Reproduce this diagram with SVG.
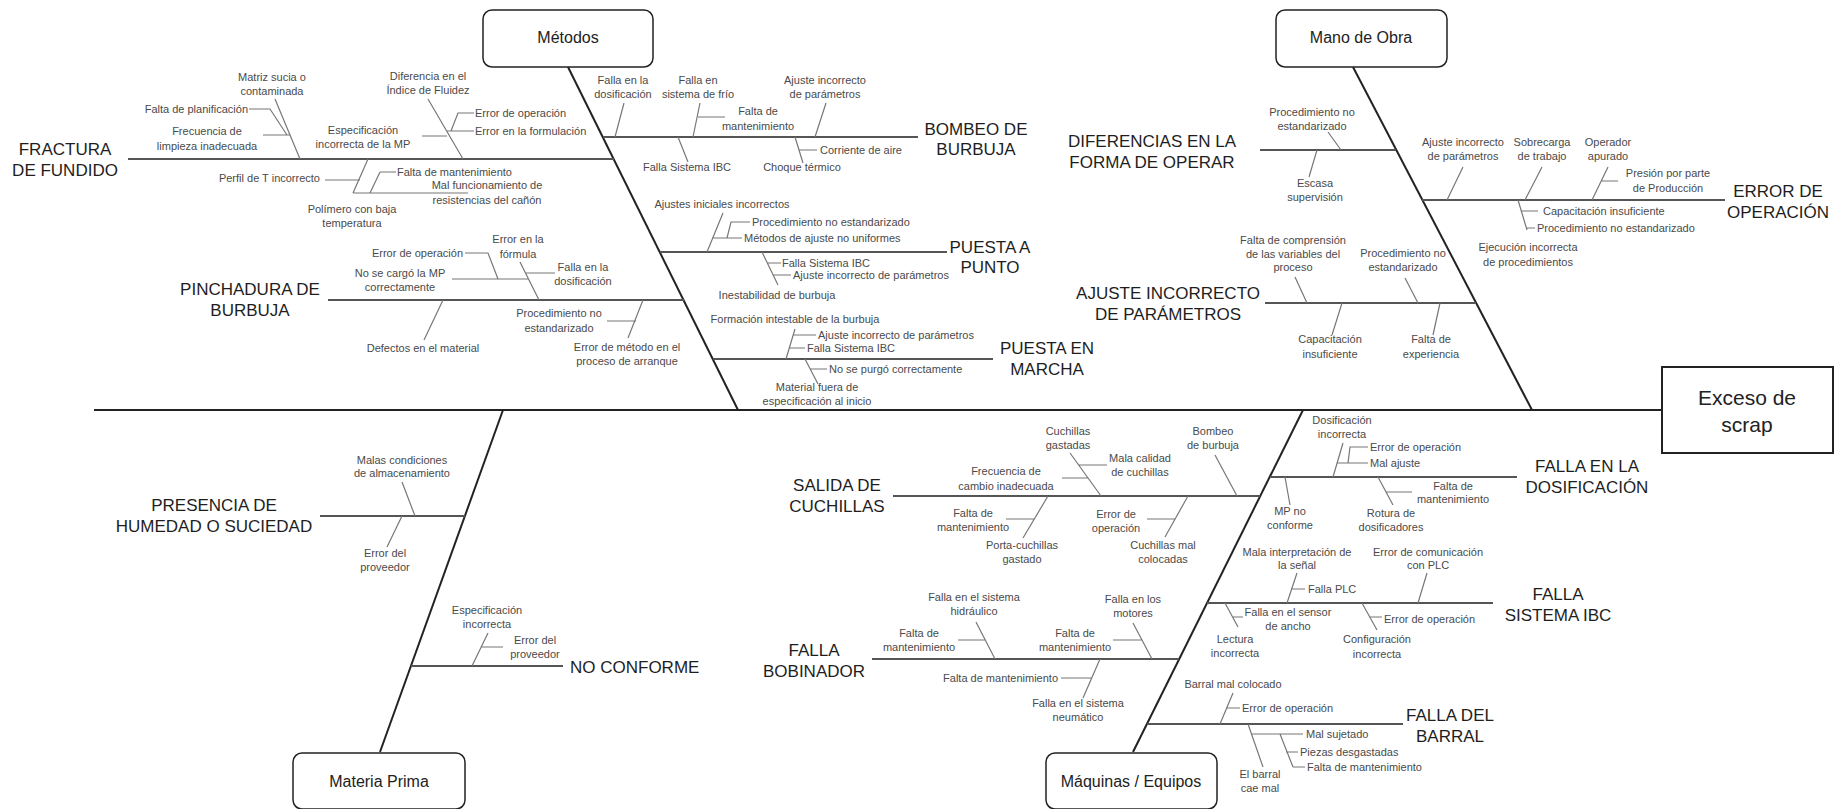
<svg xmlns="http://www.w3.org/2000/svg" width="1844" height="809" viewBox="0 0 1844 809">
<style>
text{font-family:"Liberation Sans",Arial,sans-serif}
.box{fill:#fff;stroke:#222;stroke-width:1.5}
.bt{font-size:16px;fill:#222;text-anchor:middle}
.ht{font-size:21px;fill:#222;text-anchor:middle}
.cat{font-size:17px;fill:#1e1e1e;text-anchor:middle}
.t{font-size:11px;fill:#4a4a4a;text-anchor:middle}
.s{text-anchor:start}
.e{text-anchor:end}
.spine{stroke:#222;stroke-width:2;fill:none}
.bone{stroke:#555;stroke-width:2;fill:none}
.sub{stroke:#777;stroke-width:1.2;fill:none}
</style>
<rect width="1844" height="809" fill="#fff"/>

<g id="connectors">
  <line class="spine" x1="94" y1="410" x2="1662" y2="410"/>
  <line class="spine" x1="568" y1="67" x2="738" y2="410"/>
  <line class="spine" x1="1353" y1="67" x2="1532" y2="410"/>
  <line class="spine" x1="380" y1="752" x2="503" y2="410"/>
  <line class="spine" x1="1133" y1="752" x2="1303" y2="410"/>
  <!-- category bones -->
  <line class="bone" x1="128" y1="159" x2="614" y2="159"/>
  <line class="bone" x1="328" y1="300" x2="684" y2="300"/>
  <line class="bone" x1="603" y1="137" x2="918" y2="137"/>
  <line class="bone" x1="660" y1="252" x2="947" y2="252"/>
  <line class="bone" x1="713" y1="359" x2="993" y2="359"/>
  <line class="bone" x1="1260" y1="150" x2="1396" y2="150"/>
  <line class="bone" x1="1422" y1="200" x2="1725" y2="200"/>
  <line class="bone" x1="1265" y1="303" x2="1476" y2="303"/>
  <line class="bone" x1="320" y1="516" x2="465" y2="516"/>
  <line class="bone" x1="411" y1="666" x2="563" y2="666"/>
  <line class="bone" x1="893" y1="496" x2="1260" y2="496"/>
  <line class="bone" x1="872" y1="659" x2="1179" y2="659"/>
  <line class="bone" x1="1270" y1="477" x2="1517" y2="477"/>
  <line class="bone" x1="1207" y1="603" x2="1493" y2="603"/>
  <line class="bone" x1="1147" y1="724" x2="1403" y2="724"/>
  <!-- FRACTURA -->
  <path class="sub" d="M275 99L300 159M249 109H270L287 135M263 135H290M422 136H447M428 99L463 159M447 131H474M451 131L458 113H474M325 180H360M368 159L353 193M380 172H396M380 172L370 193M353 193H468"/>
  <!-- PINCHADURA -->
  <path class="sub" d="M465 253H488L498 279M452 279H529M520 262L539 300M525 273H555M443 300L424 340M607 321H636M643 300L628 338"/>
  <!-- BOMBEO -->
  <path class="sub" d="M624 103L615 137M700 103L693 137M698 117H725M826 103L815 137M678 137L688 162M795 137L803 163M799 150H817"/>
  <!-- PUESTA A PUNTO -->
  <path class="sub" d="M723 213L707 252M712 238H742M727 238L731 222H750M762 252L778 285M767 263H781M773 275H791"/>
  <!-- PUESTA EN MARCHA -->
  <path class="sub" d="M795 329L786 359M793 335H816M789 348H805M805 359L818 384M810 369H827"/>
  <!-- DIFERENCIAS -->
  <path class="sub" d="M1328 132L1341 150M1317 150L1309 177"/>
  <!-- ERROR DE OPERACION -->
  <path class="sub" d="M1463 167L1447 200M1542 167L1525 200M1608 167L1592 200M1601 181H1618M1518 200L1527 230M1521 211H1538M1526 228H1535"/>
  <!-- AJUSTE -->
  <path class="sub" d="M1295 277L1307 303M1405 278L1418 303M1342 303L1332 335M1440 303L1433 335"/>
  <!-- PRESENCIA -->
  <path class="sub" d="M402 482L415 516M402 516L387 547"/>
  <!-- NO CONFORME -->
  <path class="sub" d="M488 633L472 666M481 647H503"/>
  <!-- SALIDA -->
  <path class="sub" d="M1070 453L1101 496M1079 465H1107M1062 478H1088M1215 455L1237 496M1006 519H1034M1048 496L1023 538M1147 519H1175M1188 496L1165 537"/>
  <!-- BOBINADOR -->
  <path class="sub" d="M976 622L995 659M958 640H985M1133 623L1152 659M1113 640H1142M1100 659L1083 698M1061 678H1092"/>
  <!-- DOSIFICACION -->
  <path class="sub" d="M1343 443L1333 477M1337 463H1368M1348 463L1350 447H1368M1285 477L1290 505M1378 477L1393 505M1386 492H1412"/>
  <!-- IBC -->
  <path class="sub" d="M1297 573L1287 603M1292 589H1305M1427 573L1418 603M1225 603L1238 627M1233 617H1243M1362 603L1377 630M1370 617H1382"/>
  <!-- BARRAL -->
  <path class="sub" d="M1233 693L1220 724M1227 708H1240M1248 724L1263 767M1251 734H1303M1280 734L1293 767M1286 752H1298M1293 767H1305"/>
</g>

<g id="head">
  <rect x="1662" y="367" width="171" height="86" fill="#fff" stroke="#222" stroke-width="2"/>
  <text class="ht" x="1747" y="405">Exceso de</text>
  <text class="ht" x="1747" y="432">scrap</text>
</g>
<g id="metodos">
  <rect class="box" x="483" y="10" width="170" height="57" rx="9"/>
  <text class="bt" x="568" y="43">Métodos</text>
</g>
<g id="mano-de-obra">
  <rect class="box" x="1276" y="10" width="171" height="57" rx="9"/>
  <text class="bt" x="1361" y="43">Mano de Obra</text>
</g>
<g id="materia-prima">
  <rect class="box" x="293" y="753" width="172" height="56" rx="9"/>
  <text class="bt" x="379" y="787">Materia Prima</text>
</g>
<g id="maquinas">
  <rect class="box" x="1046" y="753" width="171" height="56" rx="9"/>
  <text class="bt" x="1131" y="787">Máquinas / Equipos</text>
</g>

<g id="fractura">
  <text class="cat" x="65" y="155">FRACTURA</text>
  <text class="cat" x="65" y="176">DE FUNDIDO</text>
  <text class="t" x="272" y="81">Matriz sucia o</text>
  <text class="t" x="272" y="95">contaminada</text>
  <text class="t e" x="248" y="113">Falta de planificación</text>
  <text class="t" x="207" y="135">Frecuencia de</text>
  <text class="t" x="207" y="150">limpieza inadecuada</text>
  <text class="t" x="363" y="134">Especificación</text>
  <text class="t" x="363" y="148">incorrecta de la MP</text>
  <text class="t" x="428" y="80">Diferencia en el</text>
  <text class="t" x="428" y="94">Índice de Fluidez</text>
  <text class="t s" x="475" y="117">Error de operación</text>
  <text class="t s" x="475" y="135">Error en la formulación</text>
  <text class="t e" x="320" y="182">Perfil de T incorrecto</text>
  <text class="t" x="352" y="213">Polímero con baja</text>
  <text class="t" x="352" y="227">temperatura</text>
  <text class="t s" x="397" y="176">Falta de mantenimiento</text>
  <text class="t" x="487" y="189">Mal funcionamiento de</text>
  <text class="t" x="487" y="204">resistencias del cañón</text>
</g>

<g id="pinchadura">
  <text class="cat" x="250" y="295">PINCHADURA DE</text>
  <text class="cat" x="250" y="316">BURBUJA</text>
  <text class="t e" x="463" y="257">Error de operación</text>
  <text class="t" x="400" y="277">No se cargó la MP</text>
  <text class="t" x="400" y="291">correctamente</text>
  <text class="t" x="518" y="243">Error en la</text>
  <text class="t" x="518" y="258">fórmula</text>
  <text class="t" x="583" y="271">Falla en la</text>
  <text class="t" x="583" y="285">dosificación</text>
  <text class="t" x="423" y="352">Defectos en el material</text>
  <text class="t" x="559" y="317">Procedimiento no</text>
  <text class="t" x="559" y="332">estandarizado</text>
  <text class="t" x="627" y="351">Error de método en el</text>
  <text class="t" x="627" y="365">proceso de arranque</text>
</g>

<g id="bombeo">
  <text class="cat" x="976" y="135">BOMBEO DE</text>
  <text class="cat" x="976" y="155">BURBUJA</text>
  <text class="t" x="623" y="84">Falla en la</text>
  <text class="t" x="623" y="98">dosificación</text>
  <text class="t" x="698" y="84">Falla en</text>
  <text class="t" x="698" y="98">sistema de frío</text>
  <text class="t" x="758" y="115">Falta de</text>
  <text class="t" x="758" y="130">mantenimiento</text>
  <text class="t" x="825" y="84">Ajuste incorrecto</text>
  <text class="t" x="825" y="98">de parámetros</text>
  <text class="t" x="687" y="171">Falla Sistema IBC</text>
  <text class="t" x="802" y="171">Choque térmico</text>
  <text class="t s" x="820" y="154">Corriente de aire</text>
</g>

<g id="puesta-a-punto">
  <text class="cat" x="990" y="253">PUESTA A</text>
  <text class="cat" x="990" y="273">PUNTO</text>
  <text class="t" x="722" y="208">Ajustes iniciales incorrectos</text>
  <text class="t s" x="752" y="226">Procedimiento no estandarizado</text>
  <text class="t s" x="744" y="242">Métodos de ajuste no uniformes</text>
  <text class="t s" x="782" y="267">Falla Sistema IBC</text>
  <text class="t s" x="793" y="279">Ajuste incorrecto de parámetros</text>
  <text class="t" x="777" y="299">Inestabilidad de burbuja</text>
</g>

<g id="puesta-en-marcha">
  <text class="cat" x="1047" y="354">PUESTA EN</text>
  <text class="cat" x="1047" y="375">MARCHA</text>
  <text class="t" x="795" y="323">Formación intestable de la burbuja</text>
  <text class="t s" x="818" y="339">Ajuste incorrecto de parámetros</text>
  <text class="t s" x="807" y="352">Falla Sistema IBC</text>
  <text class="t s" x="829" y="373">No se purgó correctamente</text>
  <text class="t" x="817" y="391">Material fuera de</text>
  <text class="t" x="817" y="405">especificación al inicio</text>
</g>

<g id="diferencias">
  <text class="cat" x="1152" y="147">DIFERENCIAS EN LA</text>
  <text class="cat" x="1152" y="168">FORMA DE OPERAR</text>
  <text class="t" x="1312" y="116">Procedimiento no</text>
  <text class="t" x="1312" y="130">estandarizado</text>
  <text class="t" x="1315" y="187">Escasa</text>
  <text class="t" x="1315" y="201">supervisión</text>
</g>

<g id="error-operacion">
  <text class="cat" x="1778" y="197">ERROR DE</text>
  <text class="cat" x="1778" y="218">OPERACIÓN</text>
  <text class="t" x="1463" y="146">Ajuste incorrecto</text>
  <text class="t" x="1463" y="160">de parámetros</text>
  <text class="t" x="1542" y="146">Sobrecarga</text>
  <text class="t" x="1542" y="160">de trabajo</text>
  <text class="t" x="1608" y="146">Operador</text>
  <text class="t" x="1608" y="160">apurado</text>
  <text class="t" x="1668" y="177">Presión por parte</text>
  <text class="t" x="1668" y="192">de Producción</text>
  <text class="t s" x="1543" y="215">Capacitación insuficiente</text>
  <text class="t s" x="1537" y="232">Procedimiento no estandarizado</text>
  <text class="t" x="1528" y="251">Ejecución incorrecta</text>
  <text class="t" x="1528" y="266">de procedimientos</text>
</g>

<g id="ajuste-incorrecto">
  <text class="cat" x="1168" y="299">AJUSTE INCORRECTO</text>
  <text class="cat" x="1168" y="320">DE PARÁMETROS</text>
  <text class="t" x="1293" y="244">Falta de comprensión</text>
  <text class="t" x="1293" y="258">de las variables del</text>
  <text class="t" x="1293" y="271">proceso</text>
  <text class="t" x="1403" y="257">Procedimiento no</text>
  <text class="t" x="1403" y="271">estandarizado</text>
  <text class="t" x="1330" y="343">Capacitación</text>
  <text class="t" x="1330" y="358">insuficiente</text>
  <text class="t" x="1431" y="343">Falta de</text>
  <text class="t" x="1431" y="358">experiencia</text>
</g>

<g id="presencia-humedad">
  <text class="cat" x="214" y="511">PRESENCIA DE</text>
  <text class="cat" x="214" y="532">HUMEDAD O SUCIEDAD</text>
  <text class="t" x="402" y="464">Malas condiciones</text>
  <text class="t" x="402" y="477">de almacenamiento</text>
  <text class="t" x="385" y="557">Error del</text>
  <text class="t" x="385" y="571">proveedor</text>
</g>

<g id="no-conforme">
  <text class="cat s" x="570" y="673">NO CONFORME</text>
  <text class="t" x="487" y="614">Especificación</text>
  <text class="t" x="487" y="628">incorrecta</text>
  <text class="t" x="535" y="644">Error del</text>
  <text class="t" x="535" y="658">proveedor</text>
</g>

<g id="salida-cuchillas">
  <text class="cat" x="837" y="491">SALIDA DE</text>
  <text class="cat" x="837" y="512">CUCHILLAS</text>
  <text class="t" x="1068" y="435">Cuchillas</text>
  <text class="t" x="1068" y="449">gastadas</text>
  <text class="t" x="1140" y="462">Mala calidad</text>
  <text class="t" x="1140" y="476">de cuchillas</text>
  <text class="t" x="1006" y="475">Frecuencia de</text>
  <text class="t" x="1006" y="490">cambio inadecuada</text>
  <text class="t" x="1213" y="435">Bombeo</text>
  <text class="t" x="1213" y="449">de burbuja</text>
  <text class="t" x="973" y="517">Falta de</text>
  <text class="t" x="973" y="531">mantenimiento</text>
  <text class="t" x="1022" y="549">Porta-cuchillas</text>
  <text class="t" x="1022" y="563">gastado</text>
  <text class="t" x="1116" y="518">Error de</text>
  <text class="t" x="1116" y="532">operación</text>
  <text class="t" x="1163" y="549">Cuchillas mal</text>
  <text class="t" x="1163" y="563">colocadas</text>
</g>

<g id="falla-bobinador">
  <text class="cat" x="814" y="656">FALLA</text>
  <text class="cat" x="814" y="677">BOBINADOR</text>
  <text class="t" x="974" y="601">Falla en el sistema</text>
  <text class="t" x="974" y="615">hidráulico</text>
  <text class="t" x="919" y="637">Falta de</text>
  <text class="t" x="919" y="651">mantenimiento</text>
  <text class="t" x="1133" y="603">Falla en los</text>
  <text class="t" x="1133" y="617">motores</text>
  <text class="t" x="1075" y="637">Falta de</text>
  <text class="t" x="1075" y="651">mantenimiento</text>
  <text class="t e" x="1058" y="682">Falta de mantenimiento</text>
  <text class="t" x="1078" y="707">Falla en el sistema</text>
  <text class="t" x="1078" y="721">neumático</text>
</g>

<g id="falla-dosificacion">
  <text class="cat" x="1587" y="472">FALLA EN LA</text>
  <text class="cat" x="1587" y="493">DOSIFICACIÓN</text>
  <text class="t" x="1342" y="424">Dosificación</text>
  <text class="t" x="1342" y="438">incorrecta</text>
  <text class="t s" x="1370" y="451">Error de operación</text>
  <text class="t s" x="1370" y="467">Mal ajuste</text>
  <text class="t" x="1290" y="515">MP no</text>
  <text class="t" x="1290" y="529">conforme</text>
  <text class="t" x="1453" y="490">Falta de</text>
  <text class="t" x="1453" y="503">mantenimiento</text>
  <text class="t" x="1391" y="517">Rotura de</text>
  <text class="t" x="1391" y="531">dosificadores</text>
</g>

<g id="falla-ibc">
  <text class="cat" x="1558" y="600">FALLA</text>
  <text class="cat" x="1558" y="621">SISTEMA IBC</text>
  <text class="t" x="1297" y="556">Mala interpretación de</text>
  <text class="t" x="1297" y="569">la señal</text>
  <text class="t s" x="1308" y="593">Falla PLC</text>
  <text class="t" x="1428" y="556">Error de comunicación</text>
  <text class="t" x="1428" y="569">con PLC</text>
  <text class="t" x="1288" y="616">Falla en el sensor</text>
  <text class="t" x="1288" y="630">de ancho</text>
  <text class="t" x="1235" y="643">Lectura</text>
  <text class="t" x="1235" y="657">incorrecta</text>
  <text class="t s" x="1384" y="623">Error de operación</text>
  <text class="t" x="1377" y="643">Configuración</text>
  <text class="t" x="1377" y="658">incorrecta</text>
</g>

<g id="falla-barral">
  <text class="cat" x="1450" y="721">FALLA DEL</text>
  <text class="cat" x="1450" y="742">BARRAL</text>
  <text class="t" x="1233" y="688">Barral mal colocado</text>
  <text class="t s" x="1242" y="712">Error de operación</text>
  <text class="t" x="1260" y="778">El barral</text>
  <text class="t" x="1260" y="792">cae mal</text>
  <text class="t s" x="1306" y="738">Mal sujetado</text>
  <text class="t s" x="1300" y="756">Piezas desgastadas</text>
  <text class="t s" x="1307" y="771">Falta de mantenimiento</text>
</g>
</svg>
